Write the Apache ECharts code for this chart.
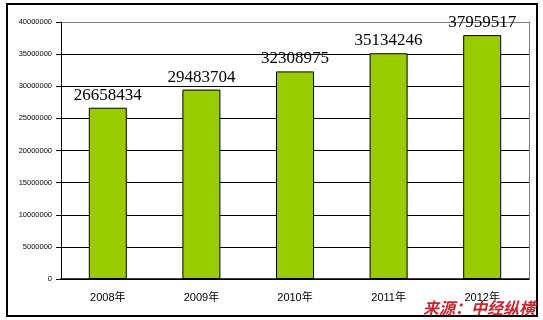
<!DOCTYPE html>
<html><head><meta charset="utf-8">
<script src="https://cdn.jsdelivr.net/npm/echarts@6/dist/echarts.min.js"></script>
<style>html,body{margin:0;padding:0;background:#fff}#c{width:543px;height:320px}</style>
</head><body><div id="c"></div>
<script>
var categories = ['2008年','2009年','2010年','2011年','2012年'];
var values = [26658434, 29483704, 32308975, 35134246, 37959517];
var yTicks = [0,5000000,10000000,15000000,20000000,25000000,30000000,35000000,40000000];
var sourceText = '来源：中经纵横';

var chart = echarts.init(document.getElementById('c'), null, {renderer:'canvas'});
var splitColors = yTicks.map(function(v,i){ return i === yTicks.length-1 ? '#808080' : '#000'; });
chart.setOption({
  animation:false,
  backgroundColor:'#fff',
  grid:{left:61, right:14, top:22, bottom:41},
  xAxis:{
    type:'category', data:categories,
    axisLine:{lineStyle:{color:'#000', width:1.5}},
    axisTick:{inside:true, length:5, lineStyle:{color:'#000'}},
    axisLabel:{color:'#000', fontSize:11, margin:13, fontFamily:'Liberation Sans, "Noto Sans CJK SC", sans-serif'}
  },
  yAxis:[{
    type:'value', min:yTicks[0], max:yTicks[yTicks.length-1], interval:yTicks[1]-yTicks[0],
    axisLine:{show:true, lineStyle:{color:'#000', width:1}},
    axisTick:{show:true, length:5, lineStyle:{color:'#000'}},
    axisLabel:{color:'#000', fontSize:7.5, margin:9, fontFamily:'Liberation Sans, sans-serif',
      formatter:function(v){ return String(v); }},
    splitLine:{show:true, lineStyle:{color:splitColors, width:1}}
  },{
    type:'value', position:'right', min:yTicks[0], max:yTicks[yTicks.length-1], interval:yTicks[1]-yTicks[0],
    axisLine:{show:true, lineStyle:{color:'#808080', width:1}},
    axisTick:{show:false}, axisLabel:{show:false}, splitLine:{show:false}
  }],
  series:[{
    type:'bar', data:values, barWidth:38,
    itemStyle:{color:'#99cc00', borderColor:'#000', borderWidth:1},
    label:{show:true, position:'top', distance:4, color:'#000', fontSize:17, fontFamily:'"Liberation Serif", serif'}
  }],
  graphic:[
    {type:'rect', shape:{x:7, y:4, width:530, height:312}, style:{fill:null, stroke:'#000', lineWidth:2}, z:100},
    {type:'text', right:8, bottom:4, style:{text:sourceText, fill:'#c8252c', font:'italic bold 16px "Noto Sans CJK SC", sans-serif'}, z:101}
  ]
});
</script></body></html>
